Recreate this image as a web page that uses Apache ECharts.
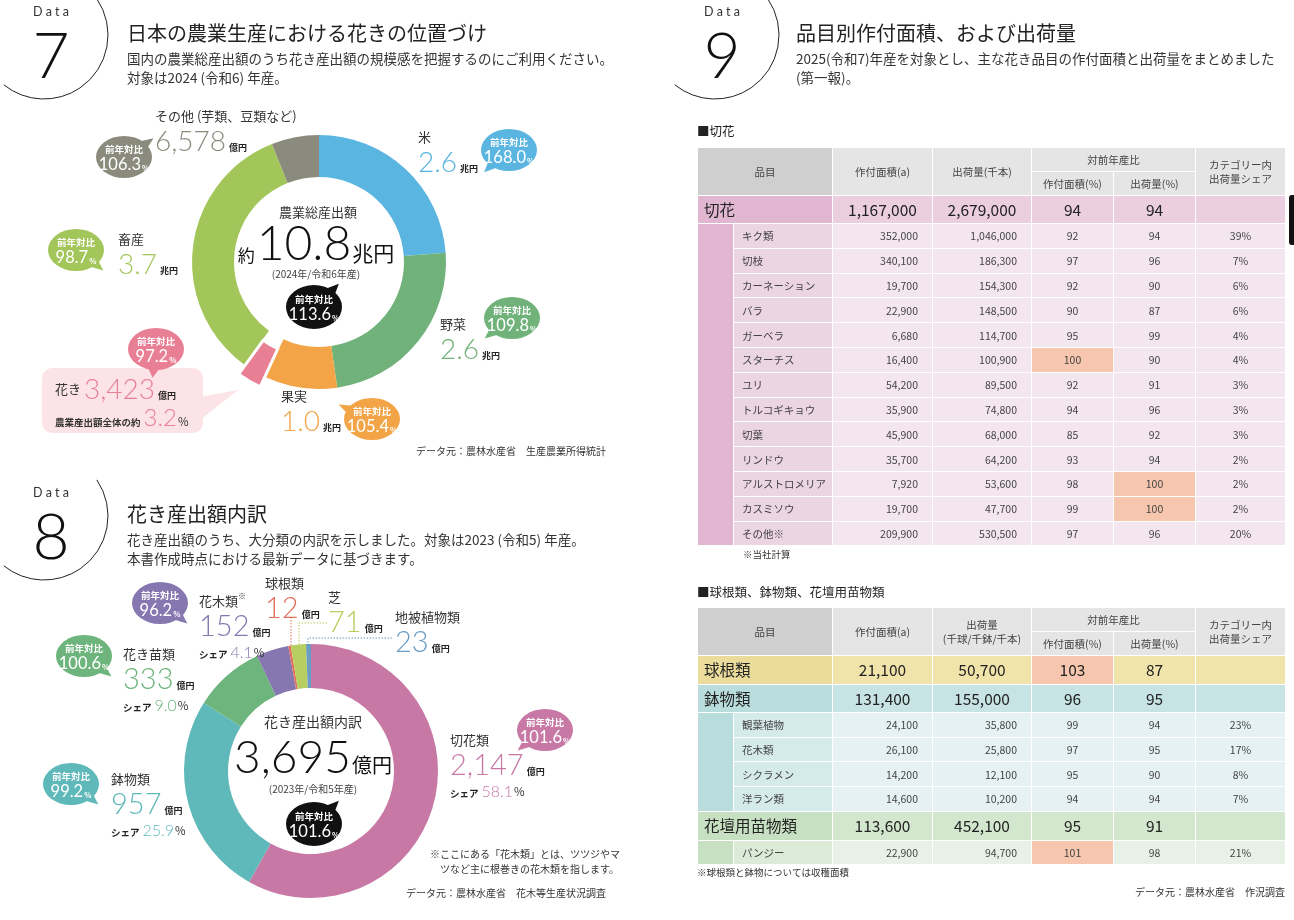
<!DOCTYPE html>
<html>
<head>
<meta charset="utf-8">
<script src="https://cdn.jsdelivr.net/npm/echarts@6/dist/echarts.min.js"></script>
<style>
html, body { margin: 0; padding: 0; background: #fff; }
#page { position: relative; width: 1294px; height: 920px; overflow: hidden; font-family: "Noto Sans CJK JP", sans-serif; }
#chart { position: absolute; left: 0; top: 0; width: 1294px; height: 920px; }
.tbl { position: absolute; left: 697px; width: 588px; border-collapse: collapse; table-layout: fixed; font-size: 10.5px; color: #444; z-index: 2; }
.tbl td { border: 1px solid #fff; padding: 0; white-space: nowrap; text-align: center; vertical-align: middle; line-height: 1.25; }
.tbl .h1 { background: #cfcfcf; }
.tbl .h { background: #e5e5e5; }
.tbl tr.cat td { font-size: 15.5px; color: #222; }
.tbl td.cn { text-align: left; padding-left: 6px; }
.tbl td.in { text-align: left; padding-left: 8px; }
.tbl td.num { text-align: right; padding-right: 14px; }
.t-cut .cn, .t-cut .strip { background: #e0b6d0; } .t-cut .cv { background: #eccee1; }
.t-cut .in { background: #ebd4e3; } .t-cut .iv { background: #f3e6ee; }
.t-bulb .cn { background: #ebdc9c; } .t-bulb .cv { background: #f1e4ab; }
.t-pot .cn, .t-pot .strip { background: #b9dcdd; } .t-pot .cv { background: #c8e3e4; }
.t-pot .in { background: #d5eaeb; } .t-pot .iv { background: #e5f1f2; }
.t-bed .cn, .t-bed .strip { background: #c6e0c1; } .t-bed .cv { background: #d2e7cd; }
.t-bed .in { background: #dcebd8; } .t-bed .iv { background: #e8f1e5; }
.tbl td.hl { background: #f6c6ae; }
</style>
</head>
<body>
<div id="page">
  <div id="chart"></div>
  <table id="tblCut" class="tbl" style="top:147px"></table>
  <table id="tblPot" class="tbl" style="top:607px"></table>
</div>
<script>
// ---- Data 7: 農業総産出額 (億円) ----
const agriNames = ['米', '野菜', '果実', '花き', '畜産', 'その他 (芋類、豆類など)'];
const agriValues = [26000, 26000, 10000, 3423, 37000, 6578];
const agriYoy = [168.0, 109.8, 105.4, 97.2, 98.7, 106.3];
const agriColors = ['#5ab5e0', '#71b27b', '#f2a447', '#e97f95', '#a3c65a', '#8a8a7d'];
const agriTotalText = '10.8';
const agriTotalYoy = 113.6;
const flowerShareOfAgri = 3.2;

// ---- Data 8: 花き産出額内訳 (億円) ----
const flowerNames = ['切花類', '鉢物類', '花き苗類', '花木類', '球根類', '芝', '地被植物類'];
const flowerValues = [2147, 957, 333, 152, 12, 71, 23];
const flowerYoy = [101.6, 99.2, 100.6, 96.2];
const flowerColors = ['#c878a5', '#5fb8b9', '#6db57c', '#8677b0', '#e3705a', '#b7cf60', '#6a9cc4'];
const flowerTotalYoy = 101.6;

// ---- Data 9: 切花 ----
const cutTotal = [1167000, 2679000, 94, 94];
const cutItems = ['キク類', '切枝', 'カーネーション', 'バラ', 'ガーベラ', 'スターチス', 'ユリ', 'トルコギキョウ', '切葉', 'リンドウ', 'アルストロメリア', 'カスミソウ', 'その他※'];
const cutArea = [352000, 340100, 19700, 22900, 6680, 16400, 54200, 35900, 45900, 35700, 7920, 19700, 209900];
const cutShip = [1046000, 186300, 154300, 148500, 114700, 100900, 89500, 74800, 68000, 64200, 53600, 47700, 530500];
const cutAreaRatio = [92, 97, 92, 90, 95, 100, 92, 94, 85, 93, 98, 99, 97];
const cutShipRatio = [94, 96, 90, 87, 99, 90, 91, 96, 92, 94, 100, 100, 96];
const cutShare = [39, 7, 6, 6, 4, 4, 3, 3, 3, 2, 2, 2, 20];

// ---- Data 9: 球根類、鉢物類、花壇用苗物類 ----
const groupNames = ['球根類', '鉢物類', '花壇用苗物類'];
const groupArea = [21100, 131400, 113600];
const groupShip = [50700, 155000, 452100];
const groupAreaRatio = [103, 96, 95];
const groupShipRatio = [87, 95, 91];
const potItems = ['観葉植物', '花木類', 'シクラメン', '洋ラン類'];
const potArea = [24100, 26100, 14200, 14600];
const potShip = [35800, 25800, 12100, 10200];
const potAreaRatio = [99, 97, 95, 94];
const potShipRatio = [94, 95, 90, 94];
const potShare = [23, 17, 8, 7];
const bedItems = ['パンジー'];
const bedArea = [22900];
const bedShip = [94700];
const bedAreaRatio = [101];
const bedShipRatio = [98];
const bedShare = [21];

const JP = '"Noto Sans CJK JP", "Noto Sans", sans-serif';
const NUM = 'Lato, "Noto Sans", sans-serif';
const fmt = n => n.toLocaleString('en-US');

// ---------- tables ----------
function headerRows(shipLabel) {
  return '<colgroup><col style="width:36px"><col style="width:99px"><col style="width:100px"><col style="width:99px">' +
    '<col style="width:82px"><col style="width:82px"><col style="width:90px"></colgroup>' +
    '<tr style="height:24px"><td colspan="2" rowspan="2" class="h1">品目</td><td rowspan="2" class="h">作付面積(a)</td>' +
    '<td rowspan="2" class="h">' + shipLabel + '</td><td colspan="2" class="h">対前年産比</td>' +
    '<td rowspan="2" class="h">カテゴリー内<br>出荷量シェア</td></tr>' +
    '<tr style="height:24px"><td class="h">作付面積(%)</td><td class="h">出荷量(%)</td></tr>';
}
function ratioCell(v, cls) {
  return '<td class="' + cls + (v >= 100 ? ' hl' : '') + '">' + v + '</td>';
}
function groupRows(theme, name, area, ship, ar, sr, items, iArea, iShip, iAr, iSr, iShare, catH, rowH) {
  let h = '<tr class="cat ' + theme + '" style="height:' + catH + 'px"><td colspan="2" class="cn">' + name + '</td>' +
    '<td class="cv">' + fmt(area) + '</td><td class="cv">' + fmt(ship) + '</td>' +
    ratioCell(ar, 'cv') + ratioCell(sr, 'cv') + '<td class="cv"></td></tr>';
  items.forEach((it, i) => {
    h += '<tr class="' + theme + '" style="height:' + rowH + 'px">';
    if (i === 0) h += '<td class="strip" rowspan="' + items.length + '"></td>';
    h += '<td class="in">' + it + '</td><td class="iv num">' + fmt(iArea[i]) + '</td><td class="iv num">' + fmt(iShip[i]) + '</td>' +
      ratioCell(iAr[i], 'iv') + ratioCell(iSr[i], 'iv') + '<td class="iv">' + iShare[i] + '%</td></tr>';
  });
  return h;
}
document.getElementById('tblCut').innerHTML = headerRows('出荷量(千本)') +
  groupRows('t-cut', '切花', cutTotal[0], cutTotal[1], cutTotal[2], cutTotal[3],
    cutItems, cutArea, cutShip, cutAreaRatio, cutShipRatio, cutShare, 28, 24.8);
document.getElementById('tblPot').innerHTML = headerRows('出荷量<br>(千球/千鉢/千本)') +
  groupRows('t-bulb', groupNames[0], groupArea[0], groupShip[0], groupAreaRatio[0], groupShipRatio[0], [], [], [], [], [], [], 29, 25) +
  groupRows('t-pot', groupNames[1], groupArea[1], groupShip[1], groupAreaRatio[1], groupShipRatio[1],
    potItems, potArea, potShip, potAreaRatio, potShipRatio, potShare, 28, 24.7) +
  groupRows('t-bed', groupNames[2], groupArea[2], groupShip[2], groupAreaRatio[2], groupShipRatio[2],
    bedItems, bedArea, bedShip, bedAreaRatio, bedShipRatio, bedShare, 29, 24);

// ---------- chart ----------
const chart = echarts.init(document.getElementById('chart'));
const g = [];
function txt(x, y, text, o) {
  g.push({ type: 'text', x, y, silent: true, z: 20,
    style: Object.assign({ text, fontFamily: JP, fontSize: 12, fill: '#333', align: 'left', verticalAlign: 'middle' }, o) });
}
function bubble(cx, cy, color, val, ang, rx, ry) {
  rx = rx || 28; ry = ry || 21;
  const a = ang * Math.PI / 180, d = 0.3;
  const p = (t, k) => [cx + rx * k * Math.cos(t), cy + ry * k * Math.sin(t)];
  g.push({ type: 'polygon', silent: true, z: 20, shape: { points: [p(a - d, 0.85), p(a + d, 0.85), p(a, 1.38)] }, style: { fill: color } });
  g.push({ type: 'circle', silent: true, z: 20, x: cx, y: cy, scaleY: ry / rx, shape: { cx: 0, cy: 0, r: rx }, style: { fill: color } });
  txt(cx, cy - 8, '前年対比', { fontSize: 9.5, fontWeight: 'bold', fill: '#fff', align: 'center' });
  g.push({ type: 'text', x: cx, y: cy + 8, silent: true, z: 21,
    style: { text: '{a|' + val.toFixed(1) + '}{b|%}', align: 'center', verticalAlign: 'middle',
      rich: { a: { fontFamily: NUM, fontSize: 16.5, fill: '#fff' },
              b: { fontFamily: JP, fontSize: 7.5, fontWeight: 'bold', fill: '#fff', verticalAlign: 'bottom', padding: [0, 0, 2, 1] } } } });
}
function badge(cx, cy, num, tx, title, subs) {
  g.push({ type: 'arc', silent: true, shape: { cx, cy, r: 64, startAngle: -0.6, endAngle: 2.25, clockwise: true },
    style: { stroke: '#222', lineWidth: 1, fill: null } });
  txt(cx + 7, cy - 23, 'D a t a', { fontFamily: NUM, fontSize: 12.5, fill: '#333', align: 'center' });
  txt(cx + 7, cy + 22, num, { fontFamily: NUM, fontWeight: 300, fontSize: 64, fill: '#111', align: 'center' });
  txt(tx, cy - 2, title, { fontSize: 20, fill: '#222' });
  subs.forEach((s, i) => txt(tx, cy + 24 + i * 19, s, { fontSize: 13.5, fill: '#333' }));
}

badge(44, 35, '7', 127, '日本の農業生産における花きの位置づけ',
  ['国内の農業総産出額のうち花き産出額の規模感を把握するのにご利用ください。', '対象は2024 (令和6) 年産。']);
badge(44, 516, '8', 127, '花き産出額内訳',
  ['花き産出額のうち、大分類の内訳を示しました。対象は2023 (令和5) 年産。', '本書作成時点における最新データに基づきます。']);
badge(715, 35, '9', 796, '品目別作付面積、および出荷量',
  ['2025(令和7)年産を対象とし、主な花き品目の作付面積と出荷量をまとめました', '(第一報)。']);

// Data 7 center
txt(318, 212, '農業総産出額', { fontSize: 13, align: 'center' });
txt(316, 244, '{a|約}{b|' + agriTotalText + '}{c|兆円}', { align: 'center',
  rich: { a: { fontFamily: JP, fontSize: 17, fill: '#111', verticalAlign: 'bottom', padding: [0, 2, 5, 0] },
          b: { fontFamily: NUM, fontWeight: 300, fontSize: 48, fill: '#111', lineHeight: 50, verticalAlign: 'bottom' },
          c: { fontFamily: JP, fontSize: 21, fill: '#111', verticalAlign: 'bottom', padding: [0, 0, 5, 1] } } });
txt(316, 274, '(2024年/令和6年産)', { fontSize: 10, fill: '#444', align: 'center' });
bubble(314, 307, '#111', agriTotalYoy, -50, 28, 22);

// pink box for 花き
g.push({ type: 'polygon', silent: true, z: 0, shape: { points: [[195, 398], [195, 424], [238, 390]] }, style: { fill: '#fbe3e7' } });
g.push({ type: 'rect', silent: true, z: 0, shape: { x: 42, y: 368, width: 161, height: 65, r: 10 }, style: { fill: '#fbe3e7' } });

const agriBubble = [[509, 150, 130], [512, 318, 135], [372, 419, -150], [156, 349, 95], [76, 250, 45], [124, 157, -40]];
agriBubble.forEach((b, i) => bubble(b[0], b[1], agriColors[i], agriYoy[i], b[2]));
txt(606, 451, 'データ元：農林水産省　生産農業所得統計', { fontSize: 10, fill: '#333', align: 'right' });

// Data 8 center
const flowerTotal = flowerValues.reduce((s, v) => s + v, 0);
txt(313, 722, '花き産出額内訳', { fontSize: 14, align: 'center' });
txt(313, 756, '{b|' + fmt(flowerTotal) + '}{c|億円}', { align: 'center',
  rich: { b: { fontFamily: NUM, fontWeight: 300, fontSize: 46, fill: '#111', lineHeight: 50, verticalAlign: 'bottom' },
          c: { fontFamily: JP, fontSize: 20, fill: '#111', verticalAlign: 'bottom', padding: [0, 0, 6, 1] } } });
txt(313, 789, '(2023年/令和5年産)', { fontSize: 10, fill: '#444', align: 'center' });
bubble(314, 824, '#111', flowerTotalYoy, -50, 28, 22);

const flowerBubble = [[545, 730, 135], [71, 784, 45], [84, 656, 45], [160, 603, 45]];
flowerBubble.forEach((b, i) => bubble(b[0], b[1], flowerColors[i], flowerYoy[i], b[2]));

// dotted leaders for small slices
const leaders = [[[291, 617], [291, 646]], [[327, 623], [299, 623], [299, 646]], [[392, 638], [308, 638], [308, 646]]];
leaders.forEach((pts, i) => g.push({ type: 'polyline', silent: true, shape: { points: pts },
  style: { stroke: flowerColors[i + 4], lineWidth: 1, lineDash: [1.5, 1.5], fill: null } }));

txt(430, 854, '※ここにある「花木類」とは、ツツジやマ', { fontSize: 10, fill: '#333' });
txt(440, 869, 'ツなど主に根巻きの花木類を指します。', { fontSize: 10, fill: '#333' });
txt(606, 893, 'データ元：農林水産省　花木等生産状況調査', { fontSize: 10, fill: '#333', align: 'right' });

// Data 9 captions
txt(697, 131, '■切花', { fontSize: 12.5, fill: '#222' });
txt(743, 554, '※当社計算', { fontSize: 9.5, fill: '#333' });
txt(697, 592, '■球根類、鉢物類、花壇用苗物類', { fontSize: 12.5, fill: '#222' });
txt(697, 872, '※球根類と鉢物については収穫面積', { fontSize: 9.5, fill: '#333' });
txt(1285, 892, 'データ元：農林水産省　作況調査', { fontSize: 10, fill: '#333', align: 'right' });
g.push({ type: 'rect', silent: true, shape: { x: 1289, y: 195, width: 12, height: 50, r: 3 }, style: { fill: '#111' } });

// ---------- pie labels ----------
function money(v) {
  return v >= 10000 ? [(v / 10000).toFixed(1), '兆円'] : [fmt(v), '億円'];
}
const baseRich = {
  name: { fontFamily: JP, fontSize: 13, color: '#333', lineHeight: 19 },
  sup: { fontFamily: JP, fontSize: 8, color: '#333', verticalAlign: 'top', lineHeight: 19 },
  unit: { fontFamily: JP, fontSize: 9, fontWeight: 'bold', color: '#222', verticalAlign: 'bottom', lineHeight: 12, padding: [0, 0, 4, 3] },
  small: { fontFamily: JP, fontSize: 9.5, fontWeight: 'bold', color: '#333', verticalAlign: 'bottom', lineHeight: 14, padding: [0, 3, 3, 0] },
  pct: { fontFamily: JP, fontSize: 11.5, color: '#333', verticalAlign: 'bottom', lineHeight: 14, padding: [0, 0, 3, 1] },
  sl: { fontFamily: JP, fontSize: 9.5, fontWeight: 'bold', color: '#222', verticalAlign: 'bottom', lineHeight: 20, padding: [0, 3, 2, 0] }
};
const agriRich = Object.assign({}, baseRich);
agriColors.forEach((c, i) => {
  agriRich['n' + i] = { fontFamily: NUM, fontWeight: 300, fontSize: 28, color: c, lineHeight: 30, verticalAlign: 'bottom' };
  agriRich['m' + i] = { fontFamily: NUM, fontWeight: 300, fontSize: 24, color: c, lineHeight: 26, verticalAlign: 'bottom' };
});
const flowerRich = Object.assign({}, baseRich);
flowerColors.forEach((c, i) => {
  flowerRich['n' + i] = { fontFamily: NUM, fontWeight: 300, fontSize: 29, color: c, lineHeight: 30, verticalAlign: 'bottom' };
  flowerRich['s' + i] = { fontFamily: NUM, fontWeight: 300, fontSize: 16, color: c, lineHeight: 20, verticalAlign: 'bottom' };
});

const agriLabelPos = [[418, 128], [440, 315], [281, 387], [55, 374], [118, 230], [155, 107]];
const flowerLabelPos = [[450, 731], [111, 770], [123, 645], [199, 592], [265, 574], [328, 588], [395, 608]];

function agriLabel(p) {
  const i = p.dataIndex, m = money(p.value);
  if (i === 3) {
    return '{name|' + p.name + ' }{n3|' + m[0] + '}{unit|' + m[1] + '}\n{small|農業産出額全体の約}{m3|' + flowerShareOfAgri.toFixed(1) + '}{pct|%}';
  }
  return '{name|' + p.name + '}\n{n' + i + '|' + m[0] + '}{unit|' + m[1] + '}';
}
function flowerLabel(p) {
  const i = p.dataIndex;
  let s = '{name|' + p.name + '}' + (i === 3 ? '{sup|※}' : '') + '\n{n' + i + '|' + fmt(p.value) + '}{unit|億円}';
  if (i < 4) s += '\n{sl|シェア}{s' + i + '|' + (p.value / flowerTotal * 100).toFixed(1) + '}{pct|%}';
  return s;
}
const fixed = pos => params => ({ x: pos[params.dataIndex][0], y: pos[params.dataIndex][1], align: 'left', verticalAlign: 'top' });

// 花き slice is drawn pulled out along its mid angle
const agriCenter = [319, 262];
const agriSum = agriValues.reduce((s, v) => s + v, 0);
const pinkMid = (agriValues.slice(0, 3).reduce((s, v) => s + v, 0) + agriValues[3] / 2) / agriSum * 2 * Math.PI;
const pullOut = 11;
const pinkCenter = [agriCenter[0] + pullOut * Math.sin(pinkMid), agriCenter[1] - pullOut * Math.cos(pinkMid)];

chart.setOption({
  animation: false,
  graphic: { elements: g },
  series: [
    {
      type: 'pie', center: agriCenter, radius: [85, 127], startAngle: 90, clockwise: true,
      avoidLabelOverlap: false, emphasis: { disabled: true }, z: 3,
      label: { show: true, position: 'outside', formatter: agriLabel, rich: agriRich, color: '#333' },
      labelLine: { show: false },
      labelLayout: fixed(agriLabelPos),
      data: agriNames.map((n, i) => ({
        name: n, value: agriValues[i],
        itemStyle: { color: i === 3 ? 'rgba(0,0,0,0)' : agriColors[i] }
      }))
    },
    {
      type: 'pie', center: pinkCenter, radius: [85, 127], startAngle: 90, clockwise: true, silent: true, z: 3,
      emphasis: { disabled: true }, label: { show: false }, labelLine: { show: false },
      data: agriNames.map((n, i) => ({
        name: n, value: agriValues[i],
        itemStyle: i === 3 ? { color: agriColors[i], borderColor: '#fff', borderWidth: 3 } : { color: 'rgba(0,0,0,0)' }
      }))
    },
    {
      type: 'pie', center: [311, 771], radius: [83, 127], startAngle: 90, clockwise: true,
      avoidLabelOverlap: false, emphasis: { disabled: true },
      label: { show: true, position: 'outside', formatter: flowerLabel, rich: flowerRich, color: '#333' },
      labelLine: { show: false },
      labelLayout: fixed(flowerLabelPos),
      data: flowerNames.map((n, i) => ({ name: n, value: flowerValues[i], itemStyle: { color: flowerColors[i] } }))
    }
  ]
});
</script>
</body>
</html>
